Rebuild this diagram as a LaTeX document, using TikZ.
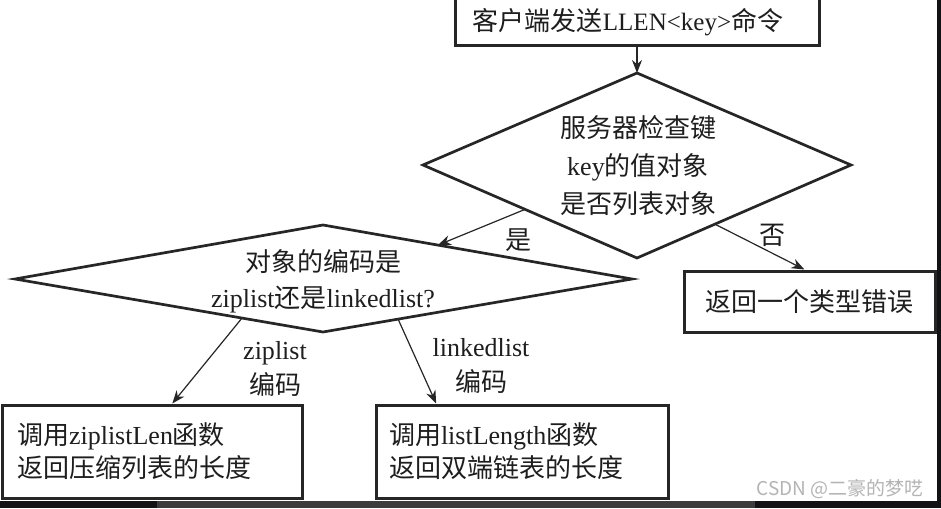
\documentclass[tikz,border=0pt]{standalone}
\usepackage{fontspec}
\setmainfont{Liberation Serif}
\newfontfamily\cjk{Noto Sans CJK SC}
\usetikzlibrary{calc,arrows.meta}
\definecolor{linec}{HTML}{262626}
\definecolor{textc}{HTML}{1E1E1E}
\definecolor{wmc}{HTML}{B4B4B4}
\definecolor{stripdark}{HTML}{121214}
\definecolor{stripgrey}{HTML}{3C3C3C}
\tikzset{
  boxst/.style={draw=linec, line width=3pt, rectangle},
  dia/.style={draw=linec, line width=2.7pt, line join=miter},
  arr/.style={draw=linec, line width=1.2pt, -{Stealth[length=13pt,width=10pt]}},
  txt/.style={text=textc, font=\fontsize{26}{33}\selectfont, align=center, inner sep=0pt},
  lbl/.style={text=textc, font=\fontsize{26}{35}\selectfont, align=center, inner sep=0pt},
}
\begin{document}
\begin{tikzpicture}[x=1pt,y=-1pt]
\useasboundingbox (0,0) rectangle (941,508);
\clip (0,0) rectangle (941,508);
\fill[white] (0,0) rectangle (941,508);

% top box
\node[boxst, minimum width=364pt, minimum height=70pt, anchor=south, inner sep=0pt] (tb) at (637,47) {};
\node[txt] (tbt) at (628,22) {{\cjk 客户端发送}{\fontsize{25}{33}\selectfont LLEN<key>}{\cjk 命令}};

% diamond 1
\coordinate (d1t) at (637,73);
\coordinate (d1r) at (851,165);
\coordinate (d1b) at (637,258);
\coordinate (d1l) at (423,165);
\draw[dia] (d1t) -- (d1r) -- (d1b) -- (d1l) -- cycle;
\node[txt, font=\fontsize{26}{38}\selectfont] (d1) at (638,166) {{\cjk 服务器检查键}\\key{\cjk 的值对象}\\{\cjk 是否列表对象}};

% diamond 2
\coordinate (d2t) at (323,225);
\coordinate (d2r) at (632,279);
\coordinate (d2b) at (323,332);
\coordinate (d2l) at (15,279);
\draw[dia] (d2t) -- (d2r) -- (d2b) -- (d2l) -- cycle;
\node[txt, font=\fontsize{26}{36}\selectfont] (d2) at (323,281) {{\cjk 对象的编码是}\\ziplist{\cjk 还是}linkedlist?};

% error box
\node[boxst, txt, minimum width=251pt, minimum height=61pt] (eb) at (809.5,301.5) {\cjk 返回一个类型错误};

% bottom boxes
\node[boxst, text=textc, font=\fontsize{26}{33}\selectfont, minimum height=93pt, text width=270pt, inner xsep=15pt, inner ysep=0pt, align=left] (lb) at (152,451.5) {{\cjk 调用}ziplistLen{\cjk 函数}\\{\cjk 返回压缩列表的长度}};
\node[boxst, text=textc, font=\fontsize{26}{33}\selectfont, minimum height=93pt, text width=266pt, inner xsep=13pt, inner ysep=0pt, align=left] (rb) at (522,451.5) {{\cjk 调用}listLength{\cjk 函数}\\{\cjk 返回双端链表的长度}};

% connectors
\draw[arr] (tb.south) -- (d1t);
\coordinate (s1) at ($(d1l)!0.477!(d1b)$);
\coordinate (e1) at ($(d2t)!0.372!(d2r)$);
\draw[arr] (s1) -- (e1);
\coordinate (s2) at ($(d1b)!0.364!(d1r)$);
\coordinate (e2) at ($(eb.north west)!0.48!(eb.north east)$);
\draw[arr] (s2) -- (e2);
\coordinate (s3) at ($(d2l)!0.737!(d2b)$);
\coordinate (e3) at ($(lb.north west)!0.567!(lb.north east)$);
\draw[arr] (s3) -- (e3);
\coordinate (s4) at ($(d2b)!0.243!(d2r)$);
\coordinate (e4) at ($(rb.north west)!0.209!(rb.north east)$);
\draw[arr] (s4) -- (e4);

% labels
\node[lbl] (ly) at (518,240) {\cjk 是};
\node[lbl] (ln) at (772,235) {\cjk 否};
\node[lbl] (lz) at (275,369) {ziplist\\{\cjk 编码}};
\node[lbl] (ll) at (481,366) {linkedlist\\{\cjk 编码}};

% watermark
\node[text=wmc, font=\cjk\fontsize{19}{19}\selectfont, inner sep=0pt] (wm) at (840,489) {CSDN @二豪的梦呓};

% screen edges
\fill[stripdark] (0,501) rectangle (941,508);
\fill[stripgrey] (157,501) rectangle (755,508);
\fill[stripdark] (937,0) rectangle (941,508);
\end{tikzpicture}
\end{document}
